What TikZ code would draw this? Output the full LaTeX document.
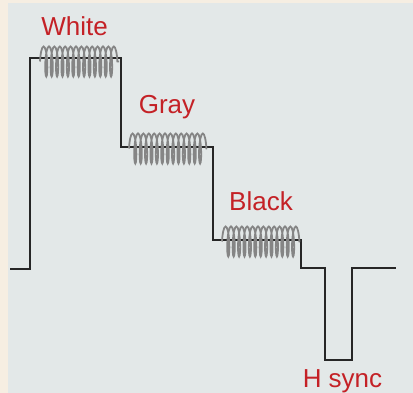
\documentclass[tikz,border=0pt]{standalone}
\usepackage{fontspec}
\setmainfont{Liberation Sans}
\usetikzlibrary{decorations.pathmorphing}
\definecolor{bgblue}{HTML}{E3E8E8}
\definecolor{edgecream}{HTML}{F6EEE2}
\definecolor{labelred}{HTML}{C42126}
\definecolor{burstgray}{HTML}{858585}

\begin{document}
\begin{tikzpicture}[
  x=1pt, y=-1pt,
  wave/.style={draw=black!85, line width=2.5pt},
  burst/.style={draw=burstgray, line width=1.8pt, decorate,
    decoration={coil, amplitude=15pt, segment length=5.4pt, aspect=0.15}},
  lbl/.style={anchor=base, inner sep=0pt, text=labelred, font=\fontsize{26}{30}\selectfont}
]
  % background
  \fill[edgecream] (0,0) rectangle (413,393);
  \fill[bgblue] (8,3) rectangle (413,393);
  \useasboundingbox (0,0) rectangle (413,393);

  % video line
  \draw[wave] (10,269) -- (30,269) -- (30,58) -- (121,58) -- (121,147) -- (213,147)
    -- (213,240) -- (301,240) -- (301,268) -- (325,268) -- (325,360) -- (352,360)
    -- (352,268) -- (396,268);

  % bursts
  \draw[burst] (40,61.5) -- (119,61.5);
  \draw[burst] (129,148.5) -- (207,148.5);
  \draw[burst] (222,241.5) -- (300,241.5);

  \node[lbl] (white) at (74.5,36) {White};
  \node[lbl] (gray) at (167,114) {Gray};
  \node[lbl] (black) at (261,211) {Black};
  \node[lbl] (hsync) at (342.5,387) {H sync};
\end{tikzpicture}
\end{document}
